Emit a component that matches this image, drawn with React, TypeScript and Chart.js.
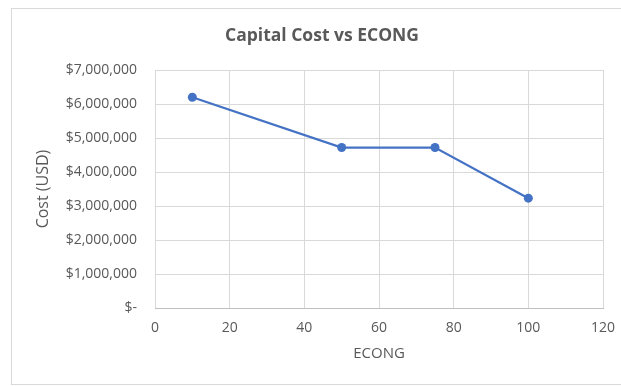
import React, { useEffect, useRef } from "react";
import { Chart, registerables } from "chart.js";

Chart.register(...registerables);

const econg: number[] = [10, 50, 75, 100];
const cost: number[] = [6200000, 4720000, 4720000, 3230000];
const chartTitle = "Capital Cost vs ECONG";
const xTitle = "ECONG";
const yTitle = "Cost (USD)";

const FONT = "'Open Sans', 'Noto Sans', sans-serif";
const TEXT = "#595959";
const GRID = "#d9d9d9";

export default function App() {
  const ref = useRef<HTMLCanvasElement | null>(null);

  useEffect(() => {
    if (!ref.current) return;
    const chart = new Chart(ref.current, {
      type: "scatter",
      data: {
        datasets: [
          {
            label: "Cost",
            data: econg.map((x, i) => ({ x, y: cost[i] })),
            showLine: true,
            borderColor: "#4472c4",
            backgroundColor: "#4472c4",
            borderWidth: 2.25,
            pointRadius: 4.5,
            pointHoverRadius: 4.5,
            pointBorderWidth: 0,
          },
        ],
      },
      options: {
        responsive: false,
        animation: false,
        layout: { padding: { left: 41, right: 18, top: 0, bottom: 23.6 } },
        plugins: {
          legend: { display: false },
          tooltip: { enabled: false },
          title: {
            display: true,
            text: chartTitle,
            color: TEXT,
            font: { family: FONT, size: 17.5, weight: "bold" },
            padding: { top: 26, bottom: 23 },
          },
        },
        scales: {
          x: {
            type: "linear",
            min: 0,
            max: 120,
            afterFit: (scale: any) => {
              scale.height = 54.4;
              scale.paddingRight = 0;
              scale.paddingLeft = 0;
            },
            ticks: {
              stepSize: 20,
              color: TEXT,
              font: { family: FONT, size: 14 },
              padding: 12,
            },
            grid: { color: GRID, lineWidth: 1, drawTicks: false },
            border: { color: "#bfbfbf", width: 1 },
            title: {
              display: true,
              text: xTitle,
              color: TEXT,
              font: { family: FONT, size: 15 },
              padding: { top: 8, bottom: 0 },
            },
          },
          y: {
            type: "linear",
            min: 0,
            max: 7000000,
            afterFit: (scale: any) => {
              scale.width = 114;
            },
            ticks: {
              stepSize: 1000000,
              color: TEXT,
              font: { family: FONT, size: 14 },
              padding: 18,
              callback: (v: any) =>
                Number(v) === 0 ? "$-" : "$" + Number(v).toLocaleString("en-US"),
            },
            grid: { color: GRID, lineWidth: 1, drawTicks: false },
            border: { display: false },
            title: {
              display: true,
              text: yTitle,
              color: TEXT,
              font: { family: FONT, size: 16 },
              padding: { top: -7.6, bottom: 0 },
            },
          },
        },
      },
    });
    return () => chart.destroy();
  }, []);

  return (
    <div
      style={{
        position: "fixed",
        left: 0,
        top: 0,
        width: 621,
        height: 386,
        background: "#ffffff",
        overflow: "hidden",
      }}
    >
      <div
        style={{
          position: "absolute",
          left: 11,
          top: 8,
          width: 620,
          height: 375,
          border: "1px solid #d9d9d9",
        }}
      />
      <canvas
        ref={ref}
        width={621}
        height={386}
        style={{ position: "absolute", left: 0, top: 0, display: "block" }}
      />
    </div>
  );
}
